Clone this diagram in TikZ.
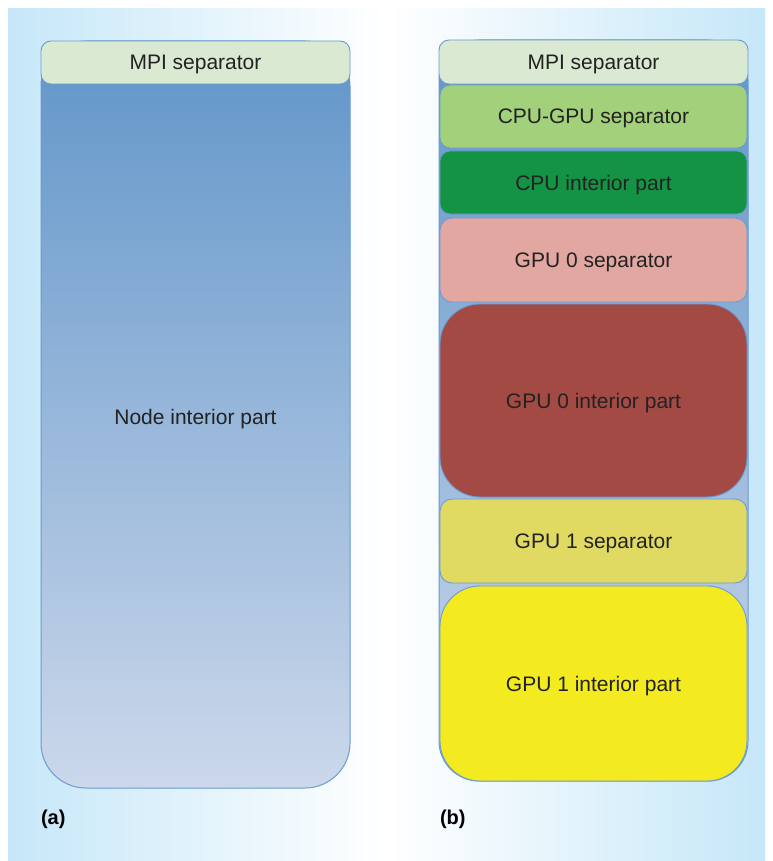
\documentclass[tikz,border=0pt]{standalone}
\usepackage{fontspec}
\setmainfont{Liberation Sans}
\definecolor{bgblue}{HTML}{C6E7F8}
\definecolor{edgeblue}{HTML}{6A9BD2}
\definecolor{bodytop}{HTML}{6195C9}
\definecolor{bodybot}{HTML}{CCD8EB}
\definecolor{mpigreen}{HTML}{D9E9D2}
\definecolor{cgsep}{HTML}{A2D07B}
\definecolor{cpuint}{HTML}{159345}
\definecolor{gpuzsep}{HTML}{E3A7A2}
\definecolor{gpuzint}{HTML}{A44A44}
\definecolor{gpuosep}{HTML}{E0DA62}
\definecolor{gpuoint}{HTML}{F4EA20}
\definecolor{txtgray}{HTML}{222222}

\begin{document}
\begin{tikzpicture}[x=1pt,y=-1pt,
	every node/.style={inner sep=0pt, outer sep=0pt, text=txtgray, font=\fontsize{21}{25}\selectfont},
	layer/.style={draw=edgeblue, line width=0.9pt, rounded corners=10pt, minimum width=307pt, text depth=0pt},
	column/.style={draw=edgeblue, line width=1pt, minimum width=309pt, top color=bodytop, bottom color=bodybot},
	caption/.style={anchor=west, font=\fontsize{20}{24}\bfseries\selectfont, text=black}]
	\useasboundingbox (0,0) rectangle (772,861);
	\shade[left color=bgblue, right color=bgblue, middle color=white] (8,9) rectangle (765,860);
	% (a)
	\node[column, rounded corners=45pt, minimum height=747pt] (bodyA) at (195.5,414.5) {};
	\node[text depth=0pt] (bodytext) at (195.5,417) {Node interior part};
	\node[layer, fill=mpigreen, minimum width=309pt, minimum height=43pt] (mpiA) at (195.5,62.5) {MPI separator};
	\node[caption] (capA) at (41,819) {(a)};
	% (b)
	\node[column, rounded corners=40pt, minimum height=741pt] (panelB) at (593.5,410.5) {};
	\node[layer, fill=mpigreen, minimum width=309pt, minimum height=44pt] (mpiB) at (593.5,62) {MPI separator};
	\node[layer, fill=cgsep, minimum height=63pt] (cpugpu) at (593.5,116.5) {CPU-GPU separator};
	\node[layer, fill=cpuint, minimum height=63pt] (cpuin) at (593.5,182.5) {CPU interior part};
	\node[layer, fill=gpuzsep, rounded corners=12pt, minimum height=84pt] (gpuzs) at (593.5,260) {GPU 0 separator};
	\node[layer, fill=gpuzint, rounded corners=40pt, minimum height=193pt] (gpuzi) at (593.5,400.5) {GPU 0 interior part};
	\node[layer, fill=gpuosep, rounded corners=12pt, minimum height=84pt] (gpuos) at (593.5,541) {GPU 1 separator};
	\node[layer, fill=gpuoint, rounded corners=40pt, minimum height=195pt] (gpuoi) at (593.5,683.5) {GPU 1 interior part};
	\node[caption] (capB) at (440,819) {(b)};
\end{tikzpicture}
\end{document}
